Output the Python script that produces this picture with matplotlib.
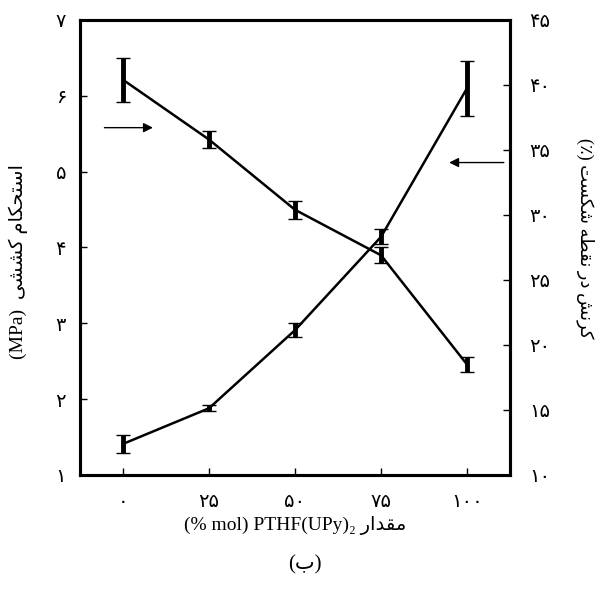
import matplotlib
matplotlib.use("Agg")
import matplotlib.pyplot as plt

# data
x = [0, 25, 50, 75, 100]
strength = [1.41, 1.88, 2.91, 4.14, 6.10]
strength_err = [0.12, 0.04, 0.09, 0.10, 0.36]
elong = [40.4, 35.8, 30.4, 26.9, 18.5]
elong_err = [1.7, 0.65, 0.7, 0.6, 0.6]

left_ticks = [1, 2, 3, 4, 5, 6, 7]
right_ticks = [10, 15, 20, 25, 30, 35, 40, 45]

FA_DIGITS = "۰۱۲۳۴۵۶۷۸۹"

def fa_num(n):
    return "".join(FA_DIGITS[int(c)] for c in str(n))

# presentation forms: isolated, final, initial, medial
FORMS = {
    "ا": ("\uFE8D", "\uFE8E", None, None),
    "ب": ("\uFE8F", "\uFE90", "\uFE91", "\uFE92"),
    "ت": ("\uFE95", "\uFE96", "\uFE97", "\uFE98"),
    "ح": ("\uFEA1", "\uFEA2", "\uFEA3", "\uFEA4"),
    "د": ("\uFEA9", "\uFEAA", None, None),
    "ر": ("\uFEAD", "\uFEAE", None, None),
    "س": ("\uFEB1", "\uFEB2", "\uFEB3", "\uFEB4"),
    "ش": ("\uFEB5", "\uFEB6", "\uFEB7", "\uFEB8"),
    "ط": ("\uFEC1", "\uFEC2", "\uFEC3", "\uFEC4"),
    "ق": ("\uFED5", "\uFED6", "\uFED7", "\uFED8"),
    "م": ("\uFEE1", "\uFEE2", "\uFEE3", "\uFEE4"),
    "ن": ("\uFEE5", "\uFEE6", "\uFEE7", "\uFEE8"),
    "ه": ("\uFEE9", "\uFEEA", "\uFEEB", "\uFEEC"),
    "ک": ("\uFB8E", "\uFB8F", "\uFB90", "\uFB91"),
    "ی": ("\uFBFC", "\uFBFD", "\uFBFE", "\uFBFF"),
}

def fa(text):
    # crude shaping + reversal for right-to-left display
    out = []
    for i, ch in enumerate(text):
        if ch not in FORMS:
            out.append(ch)
            continue
        prev = text[i - 1] if i > 0 else ""
        nxt = text[i + 1] if i + 1 < len(text) else ""
        jp = prev in FORMS and FORMS[prev][2] is not None
        jn = nxt in FORMS and FORMS[ch][2] is not None
        f = FORMS[ch]
        if jp and jn:
            out.append(f[3])
        elif jn:
            out.append(f[2])
        elif jp:
            out.append(f[1])
        else:
            out.append(f[0])
    return "".join(reversed(out))

fam = ["Liberation Serif", "DejaVu Sans"]

fig = plt.figure(figsize=(6.03, 5.91), dpi=100)
ax = fig.add_axes([0.1327, 0.1963, 0.7131, 0.7699])
ax2 = ax.twinx()

ax.errorbar(x, strength, yerr=strength_err, color="black", lw=1.8,
            elinewidth=3.5, capsize=5, capthick=1.0, zorder=3)
ax2.errorbar(x, elong, yerr=elong_err, color="black", lw=1.8,
             elinewidth=3.5, capsize=5, capthick=1.0, zorder=3)

ax.set_xlim(-12.5, 112.5)
ax.set_ylim(1, 7)
ax2.set_ylim(10, 45)

ax.set_xticks(x)
ax.set_xticklabels([fa_num(v) for v in x], family="DejaVu Sans", fontsize=14)
ax.set_yticks(left_ticks)
ax.set_yticklabels([fa_num(v) for v in left_ticks], family="DejaVu Sans", fontsize=14)
ax2.set_yticks(right_ticks)
ax2.set_yticklabels([fa_num(v) for v in right_ticks], family="DejaVu Sans", fontsize=14)

ax.tick_params(axis="x", direction="in", length=5, width=1, pad=12, top=False)
ax.tick_params(axis="y", direction="in", length=5, width=1, pad=10, right=False)
ax2.tick_params(axis="y", direction="in", length=5, width=1, pad=14)

for a in (ax, ax2):
    for s in a.spines.values():
        s.set_linewidth(2.2)

# arrows pointing to the axis of each curve
ax.annotate("", xy=(9.5, 5.58), xytext=(-6.2, 5.58),
            arrowprops=dict(arrowstyle="-|>", color="black", lw=1.0,
                            mutation_scale=14))
ax.annotate("", xy=(94.0, 5.12), xytext=(111.5, 5.12),
            arrowprops=dict(arrowstyle="-|>", color="black", lw=1.0,
                            mutation_scale=14))

fig.text(0.030, 0.558, "(MPa)  " + fa("استحکام کششی"), family=fam, fontsize=14,
         rotation=90, ha="center", va="center")
fig.text(0.971, 0.597, "(\u066a) " + fa("کرنش در نقطه شکست"), family=fam,
         fontsize=13, rotation=-90, ha="center", va="center")
ax.set_xlabel("(% mol) PTHF(UPy)\u2082 " + fa("مقدار"), family=fam, fontsize=14,
              labelpad=4)

fig.text(0.506, 0.044, "(" + fa("ب") + ")", family=fam, fontsize=15,
         ha="center", va="center")

fig.savefig("out.png", dpi=100)
